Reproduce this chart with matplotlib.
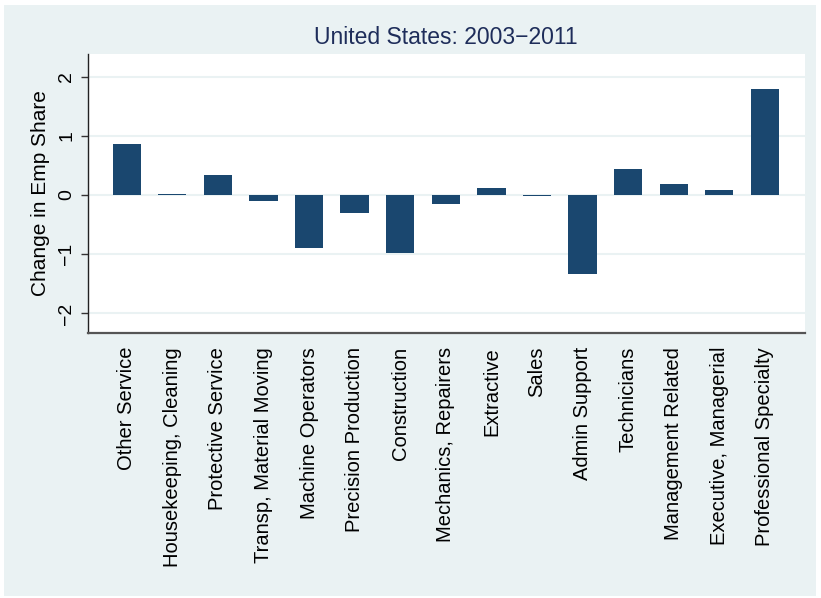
import matplotlib
matplotlib.use("Agg")
import matplotlib.pyplot as plt
from matplotlib.patches import Rectangle

plt.rcParams['font.family'] = ['Liberation Sans', 'DejaVu Sans']

occupations = [
    "Other Service", "Housekeeping, Cleaning", "Protective Service",
    "Transp, Material Moving", "Machine Operators", "Precision Production",
    "Construction", "Mechanics, Repairers", "Extractive", "Sales",
    "Admin Support", "Technicians", "Management Related",
    "Executive, Managerial", "Professional Specialty",
]
emp_share_change = [0.86, 0.02, 0.34, -0.10, -0.89, -0.31, -0.975, -0.16,
                    0.12, -0.02, -1.33, 0.44, 0.19, 0.09, 1.79]
y_ticks = [-2, -1, 0, 1, 2]

bg = "#EAF2F3"
bar_color = "#1A476F"

fig = plt.figure(figsize=(8.21, 5.98), dpi=100, facecolor="white")
fig.patches.append(Rectangle((4 / 821, 2 / 598), 812 / 821, 591 / 598,
                             transform=fig.transFigure, facecolor=bg,
                             edgecolor="none", zorder=-10))

ax = fig.add_axes([87.5 / 821, 1 - 333 / 598, (805 - 87.5) / 821, (333 - 54) / 598])
ax.set_facecolor("white")

x = list(range(len(occupations)))
ax.bar(x, emp_share_change, width=0.62, color=bar_color, edgecolor="none", zorder=3)

ax.set_xlim(-0.86, 14.88)
ax.set_ylim(-2.33, 2.38)
ax.set_yticks(y_ticks)
ax.set_yticklabels([str(t).replace("-", "\u2212") for t in y_ticks],
                   rotation=90, va="center", fontsize=14)
ax.yaxis.grid(True, color=bg, linewidth=1.5, zorder=0)
ax.set_axisbelow(True)

ax.set_xticks(x)
ax.set_xticklabels(occupations, rotation=90, fontsize=14.5)
ax.tick_params(axis="x", length=0, pad=10)
ax.tick_params(axis="y", length=5, width=1, color="#333333", pad=4)

for side in ("top", "right"):
    ax.spines[side].set_visible(False)
ax.spines["left"].set_color("#222222")
ax.spines["left"].set_linewidth(1.0)
ax.spines["bottom"].set_color("#555555")
ax.spines["bottom"].set_linewidth(1.6)

ax.set_ylabel("Change in Emp Share", fontsize=15, labelpad=6)
fig.text((87.5 + 805) / 2 / 821, 1 - 38 / 598, "United States: 2003\u22122011",
         ha="center", va="center", fontsize=16.5, color="#1E2D5A")

fig.savefig("out.png", dpi=100, facecolor="white")
